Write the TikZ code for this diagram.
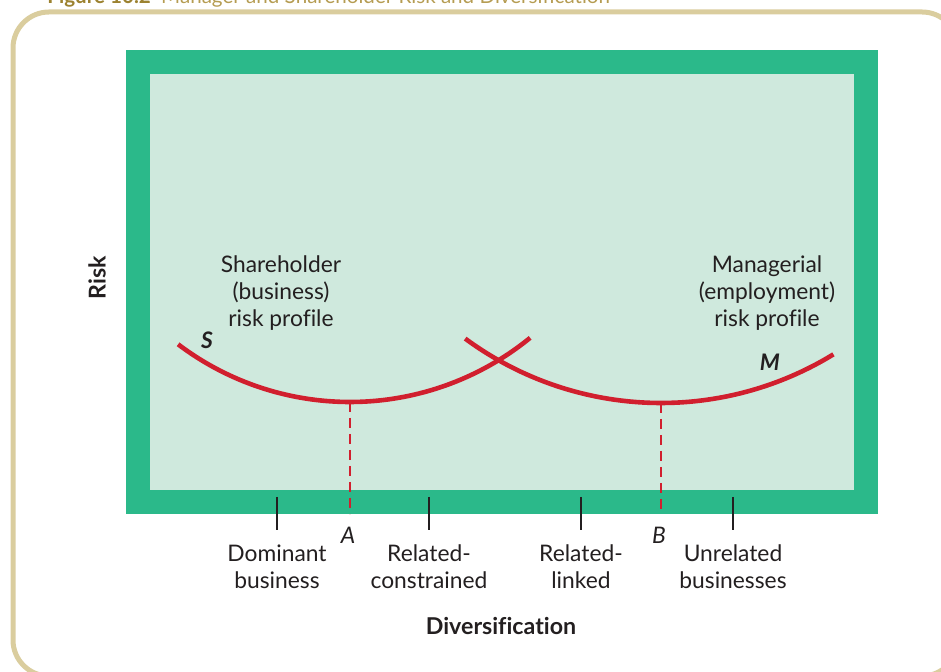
\documentclass[tikz,border=0pt]{standalone}
\usepackage{fontspec}
\setmainfont{Lato}[Ligatures=NoCommon]
\usepackage{xcolor}
\usetikzlibrary{
  arrows.meta,
  positioning,
  calc
}
\definecolor{quadro}{HTML}{2BB98A}
\definecolor{fundo}{HTML}{CFE9DD}
\definecolor{moldura}{HTML}{DACD9E}
\definecolor{vermelho}{HTML}{D11F2E}
\definecolor{texto}{HTML}{231F20}
\definecolor{ouro}{HTML}{9C8230}
\definecolor{ourocl}{HTML}{B59C52}

\begin{document}
\begin{tikzpicture}[
      x=0.5pt, y=-0.5pt,
      rotulo/.style={text=texto, align=center, inner sep=0pt,
                     font=\fontsize{11.4}{13.5}\selectfont},
      letra/.style={text=texto, inner sep=0pt, font=\fontsize{11.4}{13}\selectfont\itshape},
      marcador/.style={text=texto, inner sep=0pt, font=\fontsize{11.4}{13}\selectfont\bfseries\itshape},
      eixo/.style={text=texto, inner sep=0pt, font=\fontsize{11.6}{14}\selectfont\bfseries},
      curva/.style={draw=vermelho, line width=2.3pt},
      tracejado/.style={draw=vermelho, line width=0.75pt, dash pattern=on 5pt off 3pt},
      marca/.style={draw=texto, line width=0.6pt}
  ]
      \useasboundingbox (0,0) rectangle (941,672);

      % --- TITULO E MOLDURA ---
      \node[anchor=base west, inner sep=0pt, font=\fontsize{10.3}{12}\selectfont] (titulo) at (47,4)
          {\textcolor{ouro}{\bfseries Figure 10.2}\enspace\textcolor{ourocl}{Manager and Shareholder Risk and Diversification}};
      \draw[moldura, line width=2.5pt, rounded corners=18pt] (13,12) rectangle (958,676);

      % --- QUADRO ---
      \fill[quadro] (126,50) rectangle (878,514);
      \fill[fundo] (150,74) rectangle (854,490);

      % --- CURVAS ---
      \draw[curva] plot[domain=50.8:127.1, samples=60, smooth, variable=\t]
          ({350+285*cos(\t)}, {117+285*sin(\t)});
      \draw[curva] plot[domain=58.5:126.4, samples=60, smooth, variable=\t]
          ({661+330*cos(\t)}, {73+330*sin(\t)});

      \coordinate (minS) at (350,402);
      \coordinate (eixoA) at (350,514);
      \coordinate (minM) at (661,403);
      \coordinate (eixoB) at (661,514);
      \draw[tracejado] (minS) -- (eixoA);
      \draw[tracejado] (minM) -- (eixoB);

      \node[marcador] (s) at (207,340) {S};
      \node[marcador] (m) at (770,362) {M};
      \node[rotulo] (perfilS) at (281,293) {Shareholder\\(business)\\risk profile};
      \node[rotulo] (perfilM) at (767,293) {Managerial\\(employment)\\risk profile};

      % --- EIXO HORIZONTAL ---
      \coordinate (t1) at (277,497); \coordinate (b1) at (277,530);
      \coordinate (t2) at (429,497); \coordinate (b2) at (429,530);
      \coordinate (t3) at (581,497); \coordinate (b3) at (581,530);
      \coordinate (t4) at (733,497); \coordinate (b4) at (733,530);
      \draw[marca] (t1) -- (b1); \draw[marca] (t2) -- (b2); \draw[marca] (t3) -- (b3); \draw[marca] (t4) -- (b4);

      \node[letra] (a) at (348,535) {A};
      \node[letra] (b) at (659,535) {B};

      \node[rotulo] (dom) at (277,567) {Dominant\\business};
      \node[rotulo] (rc)  at (429,567) {Related-\\constrained};
      \node[rotulo] (rl)  at (581,567) {Related-\\linked};
      \node[rotulo] (un)  at (733,567) {Unrelated\\businesses};

      \node[eixo] (div) at (501,626) {Diversification};
      \node[eixo, rotate=90] (risco) at (97,278) {Risk};

  \end{tikzpicture}
\end{document}
